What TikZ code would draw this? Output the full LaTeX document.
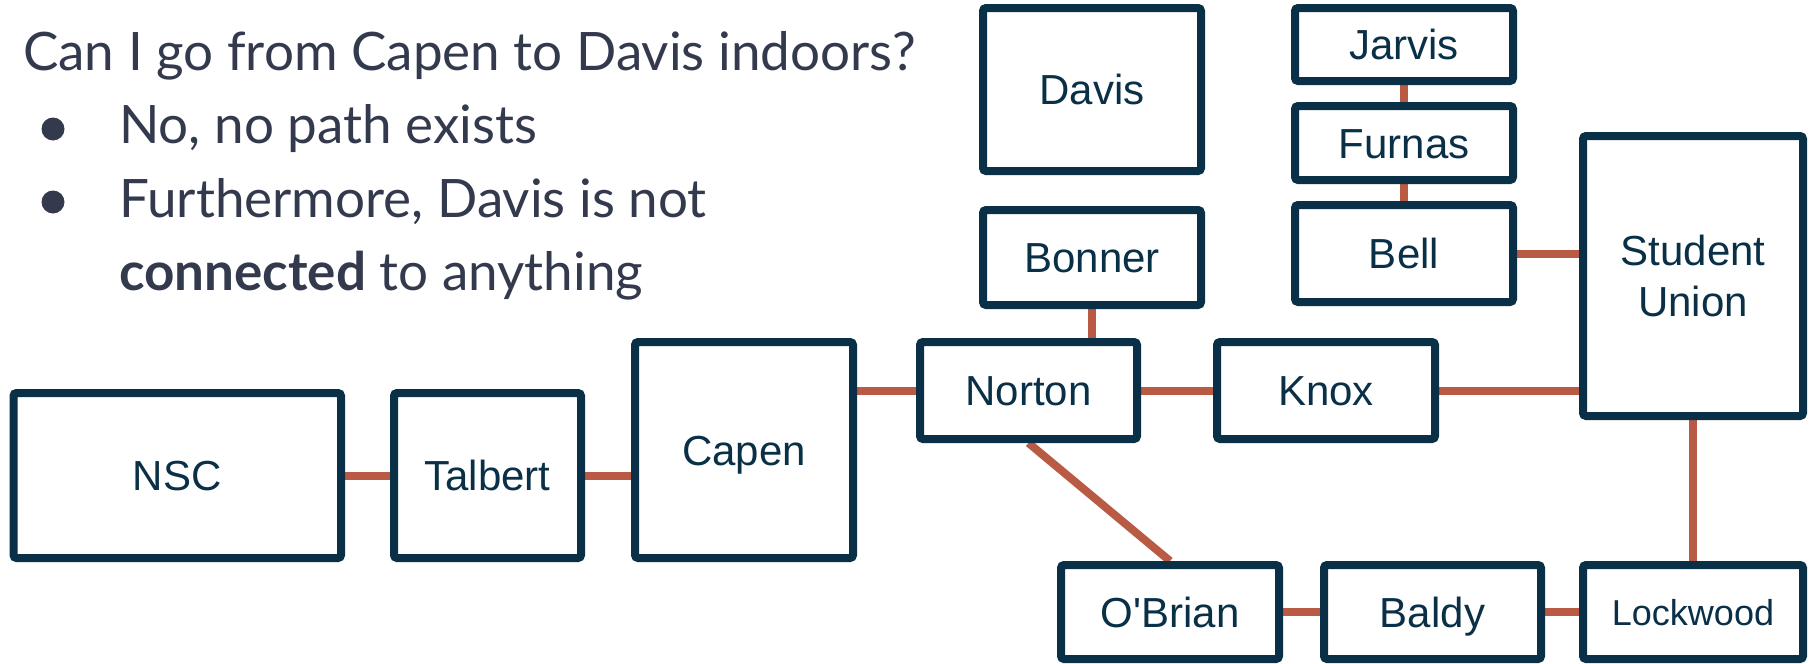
\documentclass[tikz,border=0pt]{standalone}
\usepackage{fontspec}
\setmainfont{Liberation Sans}[Ligatures=TeXOff]
\newfontfamily\slidefont{Lato}
\usetikzlibrary{backgrounds}
\definecolor{boxnavy}{RGB}{10,48,72}
\definecolor{linkred}{RGB}{184,90,68}
\definecolor{slate}{RGB}{52,58,78}
\begin{document}
\begin{tikzpicture}[x=1pt,y=-1pt,
  building/.style={draw=boxnavy, line width=8pt, rounded corners=3pt, inner sep=0pt,
    text=boxnavy, font=\fontsize{42}{51}\selectfont, align=center, fill=white},
  hall/.style={building, text height=30pt, text depth=0pt},
  link/.style={draw=linkred, line width=8pt},
  slidetext/.style={anchor=base west, inner sep=0pt, text=slate, font=\slidefont\fontsize{53}{60}\selectfont},
  bulletmark/.style={circle, fill=slate, inner sep=0pt, minimum size=23pt}]
\useasboundingbox (0,0) rectangle (1810,664);

% question and answers
\node[slidetext] (question) at (23,70) {Can I go from Capen to Davis indoors?};
\node[bulletmark] (b1) at (53,129) {};
\node[slidetext] (answer1) at (119,143) {No, no path exists};
\node[bulletmark] (b2) at (53,202) {};
\node[slidetext] (answer2) at (119,217) {Furthermore, Davis is not};
\node[slidetext] (answer3) at (119,290) {\textbf{connected} to anything};

% buildings (sizes measured on the border centre line)
\node[hall, minimum width=327.5, minimum height=165] (nsc) at (177.25,475.5) {NSC};
\node[hall, minimum width=187, minimum height=165] (talbert) at (487.5,475.5) {Talbert};
\node[hall, minimum width=218, minimum height=216] (capen) at (744,450) {Capen};
\node[hall, minimum width=217, minimum height=97] (norton) at (1028.5,390.5) {Norton};
\node[hall, minimum width=218, minimum height=97] (knox) at (1326,390.5) {Knox};
\node[building, minimum width=220, minimum height=280] (union) at (1693,276) {Student\\Union};
\node[hall, minimum width=218, minimum height=95] (bonner) at (1092,257.5) {Bonner};
\node[hall, minimum width=218, minimum height=163] (davis) at (1092,89.5) {Davis};
\node[hall, minimum width=218, minimum height=73] (jarvis) at (1404,44.5) {Jarvis};
\node[hall, minimum width=218, minimum height=74] (furnas) at (1404,143) {Furnas};
\node[hall, minimum width=218, minimum height=97] (bell) at (1404,253.5) {Bell};
\node[hall, minimum width=218, minimum height=94] (obrian) at (1170,612) {O'Brian};
\node[hall, minimum width=217, minimum height=94] (baldy) at (1432.5,612) {Baldy};
\node[hall, minimum width=220, minimum height=94, text height=26pt,
  font=\fontsize{36}{42}\selectfont] (lockwood) at (1693,612) {Lockwood};

% indoor connections
\begin{scope}[on background layer]
\draw[link] (nsc.east |- talbert.west) -- (talbert.west);
\draw[link] (talbert.east) -- (talbert.east -| capen.west);
\draw[link] (capen.east |- norton.west) -- (norton.west);
\draw[link] (norton.east) -- (knox.west);
\draw[link] (knox.east) -- (knox.east -| union.west);
\draw[link] (bonner.south) -- (bonner.south |- norton.north);
\draw[link] (jarvis.south) -- (furnas.north);
\draw[link] (furnas.south) -- (bell.north);
\draw[link] (bell.east) -- (bell.east -| union.west);
\draw[link] (union.south) -- (lockwood.north);
\draw[link] (norton.south) -- (obrian.north);
\draw[link] (obrian.east) -- (baldy.west);
\draw[link] (baldy.east) -- (lockwood.west);
\end{scope}
\end{tikzpicture}
\end{document}
